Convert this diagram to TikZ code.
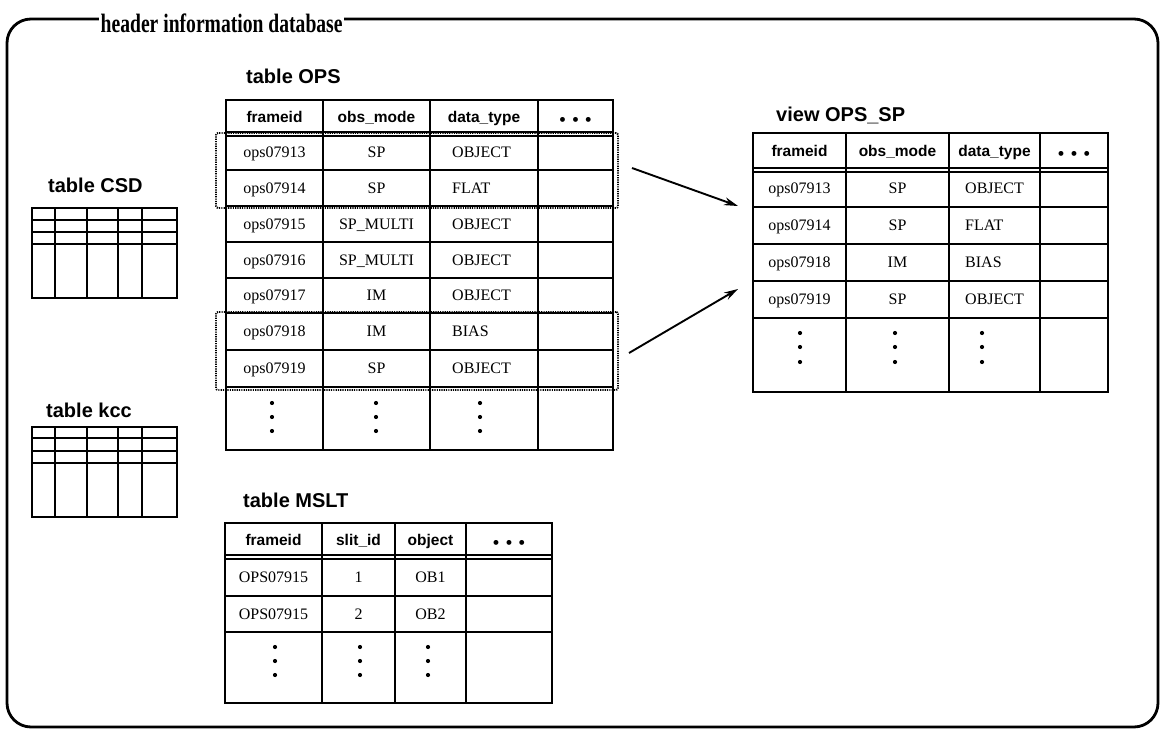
\documentclass[tikz,border=0pt]{standalone}
\usepackage{fontspec}
\usepackage{graphicx}
\setmainfont{Liberation Serif}
\setsansfont{Liberation Sans}
\usetikzlibrary{arrows.meta}
\tikzset{
  frame/.style={line width=2.8pt, rounded corners=24pt},
  outer/.style={line width=2.8pt},
  vline/.style={line width=2.1pt},
  hline/.style={line width=1.6pt},
  mini/.style={line width=1.9pt},
  miniouter/.style={line width=2.7pt},
  sel/.style={line width=1.9pt, dash pattern=on 1.2pt off 1.1pt, rounded corners=2pt, draw},
  lbl/.style={font=\sffamily\bfseries\fontsize{20}{24}\selectfont, inner sep=0pt, anchor=base west},
  hdr/.style={font=\sffamily\bfseries\fontsize{15.5}{18}\selectfont, inner sep=0pt, text height=11pt, text depth=0pt},
  cell/.style={font=\fontsize{16}{19}\selectfont, inner sep=0pt, text height=10.6pt, text depth=0pt},
  ell/.style={font=\sffamily\bfseries\fontsize{17}{17}\selectfont, inner sep=0pt},
  arr/.style={line width=1.9pt, -{Stealth[length=14pt, width=8pt]}},
}
\newcommand{\hdots}{\textbullet\hspace{7pt}\textbullet\hspace{7pt}\textbullet}
\begin{document}
\begin{tikzpicture}[x=1pt,y=-1pt]
\useasboundingbox (0,0) rectangle (1160,730);
% outer frame and title
\draw[frame] (7,19) rectangle (1158,727);
\node[fill=white, inner xsep=1.5pt, inner ysep=1pt, anchor=base west] (title) at (99,33)
  {\scalebox{0.74}[1]{\bfseries\fontsize{26.5}{30}\selectfont header information database}};

% ---------------- table CSD ----------------
\node[lbl] (lcsd) at (48,193) {table CSD};
\foreach \x in {55,87,118,142} \draw[mini] (\x,208) -- (\x,298);
\foreach \y in {220,232,244} \draw[mini] (32,\y) -- (177,\y);
\draw[miniouter] (32,208) rectangle (177,298);

% ---------------- table kcc ----------------
\node[lbl] (lkcc) at (46,417) {table kcc};
\foreach \x in {55,87,118,142} \draw[mini] (\x,427) -- (\x,517);
\foreach \y in {438,451,463} \draw[mini] (32,\y) -- (177,\y);
\draw[miniouter] (32,427) rectangle (177,517);

% ---------------- table OPS ----------------
\node[lbl] (lops) at (246,84) {table OPS};
\foreach \y in {170,206,242,278,313,350,387} \draw[hline] (226,\y) -- (613,\y);
\draw[hline] (226,132) -- (613,132);
\draw[hline] (226,136) -- (613,136);
\foreach \x in {323,430,538} \draw[vline] (\x,100) -- (\x,450);
\draw[outer] (226,100) rectangle (613,450);
\node[hdr] (ops-h1) at (274.5,117) {frameid};
\node[hdr] (ops-h2) at (376.5,117) {obs\_mode};
\node[hdr] (ops-h3) at (484,117) {data\_type};
\node[ell] (ops-h4) at (575.5,121) {\hdots};
\foreach \y/\a/\b/\c [count=\i] in {152/ops07913/SP/OBJECT, 188/ops07914/SP/FLAT,
   224/ops07915/SP\_MULTI/OBJECT, 260/ops07916/SP\_MULTI/OBJECT, 295.5/ops07917/IM/OBJECT,
   331.5/ops07918/IM/BIAS, 368.5/ops07919/SP/OBJECT} {
  \node[cell] (ops-\i-1) at (274.5,\y) {\a};
  \node[cell] (ops-\i-2) at (376.5,\y) {\b};
  \node[cell, anchor=west] (ops-\i-3) at (452,\y) {\c};
}
\foreach \x in {272,376,480} \foreach \y in {403,417,431} \fill (\x,\y) circle (2.1);
% selections
\node[sel, minimum width=402pt, minimum height=75pt] (sel1) at (417,170.5) {};
\node[sel, minimum width=402pt, minimum height=78pt] (sel2) at (417,351) {};

% ---------------- view OPS_SP ----------------
\node[lbl] (lview) at (776,122) {view OPS\_SP};
\foreach \y in {207,244,281,318} \draw[hline] (753,\y) -- (1108,\y);
\draw[hline] (753,168) -- (1108,168);
\draw[hline] (753,172) -- (1108,172);
\foreach \x in {846,949,1040} \draw[vline] (\x,133) -- (\x,392);
\draw[outer] (753,133) rectangle (1108,392);
\node[hdr] (v-h1) at (799.5,151) {frameid};
\node[hdr] (v-h2) at (897.5,151) {obs\_mode};
\node[hdr] (v-h3) at (994.5,151) {data\_type};
\node[ell] (v-h4) at (1074,155) {\hdots};
\foreach \y/\a/\b/\c [count=\i] in {188.5/ops07913/SP/OBJECT, 225.5/ops07914/SP/FLAT,
   262.5/ops07918/IM/BIAS, 299.5/ops07919/SP/OBJECT} {
  \node[cell] (v-\i-1) at (799.5,\y) {\a};
  \node[cell] (v-\i-2) at (897.5,\y) {\b};
  \node[cell, anchor=west] (v-\i-3) at (965,\y) {\c};
}
\foreach \x in {800,895,982} \foreach \y in {333,347,362} \fill (\x,\y) circle (2.1);

% arrows
\coordinate (a1s) at (632,168);
\coordinate (a1e) at (738,206);
\coordinate (a2s) at (629,353);
\coordinate (a2e) at (738,289);
\draw[arr] (a1s) -- (a1e);
\draw[arr] (a2s) -- (a2e);

% ---------------- table MSLT ----------------
\node[lbl] (lmslt) at (243,507) {table MSLT};
\foreach \y in {596,632} \draw[hline] (225,\y) -- (552,\y);
\draw[hline] (225,555) -- (552,555);
\draw[hline] (225,559) -- (552,559);
\foreach \x in {322,395,466} \draw[vline] (\x,523) -- (\x,703);
\draw[outer] (225,523) rectangle (552,703);
\node[hdr] (m-h1) at (273.5,540) {frameid};
\node[hdr] (m-h2) at (358.5,540) {slit\_id};
\node[hdr] (m-h3) at (430.5,540) {object};
\node[ell] (m-h4) at (509,544) {\hdots};
\foreach \y/\a/\b/\c [count=\i] in {577/OPS07915/1/OB1, 614/OPS07915/2/OB2} {
  \node[cell] (m-\i-1) at (273.5,\y) {\a};
  \node[cell] (m-\i-2) at (358.5,\y) {\b};
  \node[cell] (m-\i-3) at (430.5,\y) {\c};
}
\foreach \x in {275,360,428} \foreach \y in {647,661,675} \fill (\x,\y) circle (2.1);
\end{tikzpicture}
\end{document}
